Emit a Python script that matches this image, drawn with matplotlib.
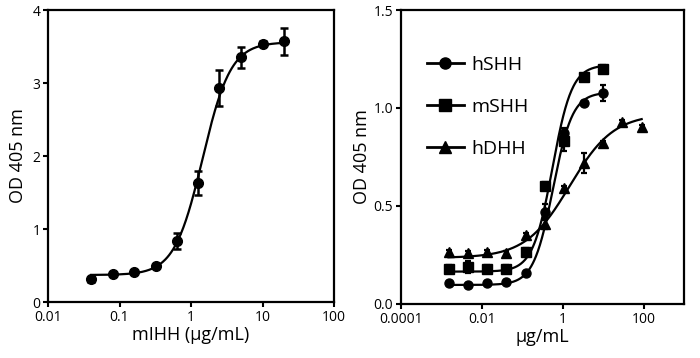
import numpy as np
import matplotlib
matplotlib.use("Agg")
import matplotlib.pyplot as plt
from matplotlib.lines import Line2D

plt.rcParams['font.family'] = ['Open Sans', 'DejaVu Sans']

# ---- Left panel data (mIHH) ----
ihh_conc = [0.04, 0.08, 0.16, 0.32, 0.63, 1.25, 2.5, 5, 10, 20]
ihh_od = [0.31, 0.38, 0.41, 0.49, 0.83, 1.63, 2.93, 3.35, 3.54, 3.57]
ihh_err = [0.03, 0.03, 0.03, 0.03, 0.11, 0.16, 0.25, 0.15, 0.03, 0.19]
ihh_fit = dict(bottom=0.37, top=3.56, ec50=1.45, hill=2.2)

# ---- Right panel data ----
conc = [0.00152, 0.00457, 0.0137, 0.041, 0.123, 0.37, 1.1, 3.3, 10]
conc_dhh = [0.00152, 0.00457, 0.0137, 0.041, 0.123, 0.37, 1.1, 3.3, 10, 30, 90]
hshh_od = [0.105, 0.098, 0.106, 0.114, 0.16, 0.47, 0.87, 1.025, 1.075]
hshh_err = [0.01, 0.01, 0.01, 0.01, 0.01, 0.04, 0.03, 0.01, 0.04]
mshh_od = [0.18, 0.19, 0.18, 0.18, 0.267, 0.60, 0.83, 1.16, 1.197]
mshh_err = [0.02, 0.03, 0.02, 0.02, 0.02, 0.02, 0.05, 0.01, 0.02]
hdhh_od = [0.267, 0.259, 0.267, 0.259, 0.352, 0.41, 0.59, 0.72, 0.82, 0.93, 0.905]
hdhh_err = [0.01, 0.01, 0.01, 0.01, 0.01, 0.03, 0.01, 0.05, 0.01, 0.01, 0.01]
hshh_fit = dict(bottom=0.097, top=1.08, ec50=0.58, hill=1.8)
mshh_fit = dict(bottom=0.165, top=1.22, ec50=0.56, hill=1.8)
hdhh_fit = dict(bottom=0.235, top=0.97, ec50=1.5, hill=0.8)

labels = ['hSHH', 'mSHH', 'hDHH']


def four_pl(x, bottom, top, ec50, hill):
    x = np.asarray(x, dtype=float)
    return bottom + (top - bottom) / (1 + (ec50 / x) ** hill)


fig = plt.figure(figsize=(7.0, 3.58), dpi=100)
ax1 = fig.add_axes([0.0686, 0.1564, 0.4086, 0.8156])
ax2 = fig.add_axes([0.5724, 0.151, 0.4047, 0.821])

tick_fs = 10
label_fs = 13

for ax in (ax1, ax2):
    ax.set_xscale('log')
    for s in ax.spines.values():
        s.set_linewidth(1.6)
    ax.tick_params(axis='both', direction='out', length=3.5, width=1.5,
                   labelsize=tick_fs, pad=2)
    ax.tick_params(axis='x', which='minor', length=0)
    ax.tick_params(top=False, right=False)

# Left panel
xs = np.logspace(np.log10(ihh_conc[0]), np.log10(ihh_conc[-1]), 300)
ax1.plot(xs, four_pl(xs, **ihh_fit), color='black', lw=1.6)
ax1.errorbar(ihh_conc, ihh_od, yerr=ihh_err, fmt='o', color='black',
             ms=7, capsize=3, elinewidth=1.8, capthick=1.8)
ax1.set_xlim(0.01, 100)
ax1.set_ylim(0, 4)
ax1.set_xticks([0.01, 0.1, 1, 10, 100])
ax1.set_xticklabels(['0.01', '0.1', '1', '10', '100'])
ax1.set_yticks([0, 1, 2, 3, 4])
ax1.set_xlabel('mIHH (µg/mL)', fontsize=label_fs, labelpad=1)
ax1.set_ylabel('OD 405 nm', fontsize=label_fs, labelpad=4)

# Right panel
series = [
    (conc, hshh_od, hshh_err, hshh_fit, 'o', 6.5),
    (conc, mshh_od, mshh_err, mshh_fit, 's', 6.5),
    (conc_dhh, hdhh_od, hdhh_err, hdhh_fit, '^', 7.5),
]
handles = []
for (cx, od, err, fit, mk, ms), lab in zip(series, labels):
    xs = np.logspace(np.log10(cx[0]), np.log10(cx[-1]), 300)
    ax2.plot(xs, four_pl(xs, **fit), color='black', lw=1.6)
    ax2.errorbar(cx, od, yerr=err, fmt=mk, color='black', ms=ms,
                 capsize=2.5, elinewidth=1.6, capthick=1.6)
    handles.append(Line2D([], [], color='black', lw=2, marker=mk, ms=8))

ax2.set_xlim(1e-4, 1000)
ax2.set_ylim(0, 1.5)
ax2.set_xticks([1e-4, 1e-2, 1, 100])
ax2.set_xticklabels(['0.0001', '0.01', '1', '100'])
ax2.set_yticks([0.0, 0.5, 1.0, 1.5])
ax2.set_yticklabels(['0.0', '0.5', '1.0', '1.5'])
ax2.set_xlabel('µg/mL', fontsize=label_fs, labelpad=1)
ax2.set_ylabel('OD 405 nm', fontsize=label_fs, labelpad=2)

ax2.legend(handles, labels, loc='upper left', bbox_to_anchor=(0.064, 0.869),
           frameon=False, fontsize=14, handlelength=1.9, handletextpad=0.4,
           labelspacing=1.22, borderaxespad=0)

fig.savefig('out.png', dpi=100)
